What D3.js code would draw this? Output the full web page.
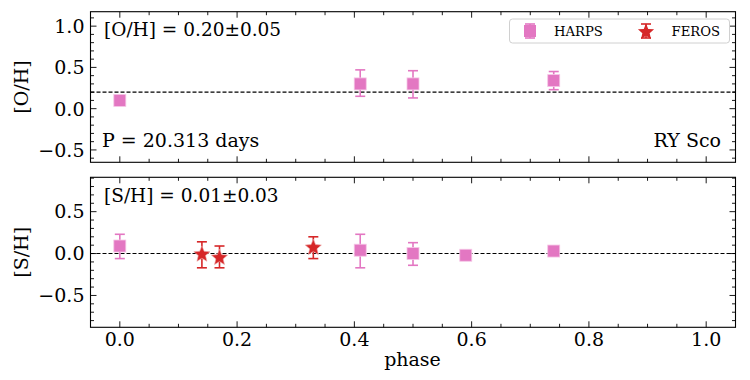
<!DOCTYPE html>
<html>
<head>
<meta charset="utf-8">
<script src="https://cdn.jsdelivr.net/npm/d3@7"></script>
<style>
  body { margin: 0; background: #fff; }
</style>
</head>
<body>
<div id="chart"></div>
<script>
// O/H panel, HARPS only
const ohPhase = [0.0, 0.41, 0.50, 0.74];
const ohVal   = [0.10, 0.30, 0.30, 0.34];
const ohLo    = [0.10, 0.15, 0.13, 0.23];
const ohHi    = [0.10, 0.47, 0.46, 0.45];
const ohMean  = 0.20;

// S/H panel
const shHarpsPhase = [0.0, 0.41, 0.50, 0.59, 0.74];
const shHarpsVal   = [0.09, 0.04, 0.00, -0.02, 0.03];
const shHarpsLo    = [-0.06, -0.17, -0.14, -0.02, 0.03];
const shHarpsHi    = [0.23, 0.23, 0.13, -0.02, 0.03];
const shFerosPhase = [0.14, 0.17, 0.33];
const shFerosVal   = [-0.01, -0.05, 0.07];
const shFerosLo    = [-0.17, -0.17, -0.06];
const shFerosHi    = [0.14, 0.09, 0.20];
const shMean = 0.0;

const xTicks = [0.0, 0.2, 0.4, 0.6, 0.8, 1.0];
const ohTicks = [-0.5, 0.0, 0.5, 1.0];
const shTicks = [-0.5, 0.0, 0.5];

const CTX = {
    W: 750, H: 380,
    LEFT: 90.5, RIGHT: 735.5,
    PINK: "#e377c2", RED: "#d62728",
    FONT: "'DejaVu Serif', serif",
    FS: "19px"
};

const svg = d3.select("#chart").append("svg")
    .attr("width", CTX.W).attr("height", CTX.H)
    .style("font-family", CTX.FONT);

const x = d3.scaleLinear().domain([-0.05, 1.05]).range([CTX.LEFT, CTX.RIGHT]);

function starPath(r) {
    let pts = [];
    for (let i = 0; i < 10; i++) {
        let rr = i % 2 === 0 ? r : r * 0.45;
        let a = -Math.PI / 2 + i * Math.PI / 5;
        pts.push([rr * Math.cos(a), rr * Math.sin(a)]);
    }
    return "M" + pts.map(p => p.join(",")).join("L") + "Z";
}

function drawPanel(top, bottom, yDomain, yTicks, yMinorStep, label) {
    const y = d3.scaleLinear().domain(yDomain).range([bottom, top]);
    const g = svg.append("g");
    const fmt = d => d3.format(".1f")(d).replace("-", "\u2212");

    const xMinor = d3.range(0, 1.0501, 0.05).filter(v => Math.abs(v * 5 - Math.round(v * 5)) > 1e-6);
    const yMinor = d3.range(Math.ceil(yDomain[0] / yMinorStep) * yMinorStep, yDomain[1] + 1e-9, yMinorStep)
        .filter(v => !yTicks.some(t => Math.abs(t - v) < 1e-6));

    // ticks point inward on all four sides
    const ticks = g.append("g").attr("stroke", "#000").attr("stroke-width", 0.9);
    xTicks.forEach(v => {
        ticks.append("line").attr("x1", x(v)).attr("x2", x(v)).attr("y1", bottom).attr("y2", bottom - 6);
        ticks.append("line").attr("x1", x(v)).attr("x2", x(v)).attr("y1", top).attr("y2", top + 6);
    });
    xMinor.forEach(v => {
        ticks.append("line").attr("x1", x(v)).attr("x2", x(v)).attr("y1", bottom).attr("y2", bottom - 3.5);
        ticks.append("line").attr("x1", x(v)).attr("x2", x(v)).attr("y1", top).attr("y2", top + 3.5);
    });
    yTicks.forEach(v => {
        ticks.append("line").attr("x1", CTX.LEFT).attr("x2", CTX.LEFT + 6).attr("y1", y(v)).attr("y2", y(v));
        ticks.append("line").attr("x1", CTX.RIGHT).attr("x2", CTX.RIGHT - 6).attr("y1", y(v)).attr("y2", y(v));
    });
    yMinor.forEach(v => {
        ticks.append("line").attr("x1", CTX.LEFT).attr("x2", CTX.LEFT + 3.5).attr("y1", y(v)).attr("y2", y(v));
        ticks.append("line").attr("x1", CTX.RIGHT).attr("x2", CTX.RIGHT - 3.5).attr("y1", y(v)).attr("y2", y(v));
    });

    g.selectAll(".ylab").data(yTicks).enter().append("text")
        .attr("x", CTX.LEFT - 6).attr("y", d => y(d)).attr("dy", "0.36em")
        .attr("text-anchor", "end").style("font-size", CTX.FS)
        .text(fmt);

    g.append("text")
        .attr("transform", `translate(28,${(top + bottom) / 2}) rotate(-90)`)
        .attr("text-anchor", "middle").style("font-size", CTX.FS)
        .text(label);

    g.append("rect").attr("x", CTX.LEFT).attr("y", top)
        .attr("width", CTX.RIGHT - CTX.LEFT).attr("height", bottom - top)
        .attr("fill", "none").attr("stroke", "#000").attr("stroke-width", 1.1);

    return { g: g, y: y };
}

function drawErr(g, y, xs, vals, lo, hi, color, marker) {
    const eg = g.append("g");
    xs.forEach((p, i) => {
        const cx = x(p);
        eg.append("line").attr("x1", cx).attr("x2", cx).attr("y1", y(lo[i])).attr("y2", y(hi[i]))
            .attr("stroke", color).attr("stroke-width", 1.6);
        [lo[i], hi[i]].forEach(v => {
            eg.append("line").attr("x1", cx - 5).attr("x2", cx + 5).attr("y1", y(v)).attr("y2", y(v))
                .attr("stroke", color).attr("stroke-width", 1.6);
        });
        if (marker === "square") {
            eg.append("rect").attr("x", cx - 6).attr("y", y(vals[i]) - 6)
                .attr("width", 12).attr("height", 12).attr("fill", color)
                .attr("stroke", "#f5c6e6").attr("stroke-width", 0.8);
        } else {
            eg.append("path").attr("d", starPath(8.5))
                .attr("transform", `translate(${cx},${y(vals[i])})`)
                .attr("fill", color).attr("stroke", "#ecaaaa").attr("stroke-width", 0.6);
        }
    });
}

// top panel
const p1 = drawPanel(11.7, 162.3, [-0.65, 1.175], ohTicks, 0.1, "[O/H]");
p1.g.append("line").attr("x1", CTX.LEFT).attr("x2", CTX.RIGHT)
    .attr("y1", p1.y(ohMean)).attr("y2", p1.y(ohMean))
    .attr("stroke", "#000").attr("stroke-width", 1.1).attr("stroke-dasharray", "4,2");
drawErr(p1.g, p1.y, ohPhase, ohVal, ohLo, ohHi, CTX.PINK, "square");
p1.g.append("text").attr("x", 104).attr("y", 36).style("font-size", "18.5px")
    .text("[O/H] = 0.20\u00b10.05");
p1.g.append("text").attr("x", 102).attr("y", 147).style("font-size", CTX.FS)
    .text("P = 20.313 days");
p1.g.append("text").attr("x", 721).attr("y", 147).attr("text-anchor", "end").style("font-size", CTX.FS)
    .text("RY Sco");

// legend
const lg = p1.g.append("g");
lg.append("rect").attr("x", 509.5).attr("y", 19).attr("width", 220).attr("height", 24)
    .attr("rx", 3).attr("fill", "#fff").attr("fill-opacity", 0.8)
    .attr("stroke", "#d0d0d0").attr("stroke-width", 1);
const legItems = [
    { name: "HARPS", color: CTX.PINK, marker: "square", mx: 530, tx: 554 },
    { name: "FEROS", color: CTX.RED, marker: "star", mx: 646, tx: 671.5 }
];
legItems.forEach(d => {
    const cy = 31;
    lg.append("line").attr("x1", d.mx).attr("x2", d.mx).attr("y1", cy - 7).attr("y2", cy + 7)
        .attr("stroke", d.color).attr("stroke-width", 1.6);
    [cy - 7, cy + 7].forEach(v => lg.append("line").attr("x1", d.mx - 5).attr("x2", d.mx + 5)
        .attr("y1", v).attr("y2", v).attr("stroke", d.color).attr("stroke-width", 1.6));
    if (d.marker === "square") {
        lg.append("rect").attr("x", d.mx - 6).attr("y", cy - 6).attr("width", 12).attr("height", 12)
            .attr("fill", d.color);
    } else {
        lg.append("path").attr("d", starPath(8.5)).attr("transform", `translate(${d.mx},${cy + 1})`)
            .attr("fill", d.color);
    }
    lg.append("text").attr("x", d.tx).attr("y", cy).attr("dy", "0.36em").style("font-size", "13.2px")
        .text(d.name);
});

// bottom panel
const p2 = drawPanel(177.3, 327.3, [-0.88, 0.91], shTicks, 0.1, "[S/H]");
p2.g.append("line").attr("x1", CTX.LEFT).attr("x2", CTX.RIGHT)
    .attr("y1", p2.y(shMean)).attr("y2", p2.y(shMean))
    .attr("stroke", "#000").attr("stroke-width", 1.1).attr("stroke-dasharray", "4,2");
drawErr(p2.g, p2.y, shHarpsPhase, shHarpsVal, shHarpsLo, shHarpsHi, CTX.PINK, "square");
drawErr(p2.g, p2.y, shFerosPhase, shFerosVal, shFerosLo, shFerosHi, CTX.RED, "star");
p2.g.append("text").attr("x", 104).attr("y", 201.5).style("font-size", "18.5px")
    .text("[S/H] = 0.01\u00b10.03");

// x tick labels and x label
svg.selectAll(".xlab").data(xTicks).enter().append("text")
    .attr("x", d => x(d)).attr("y", 346).attr("text-anchor", "middle")
    .style("font-size", CTX.FS).text(d => d3.format(".1f")(d));
svg.append("text").attr("x", (CTX.LEFT + CTX.RIGHT) / 2 - 0.5).attr("y", 366)
    .attr("text-anchor", "middle").style("font-size", CTX.FS).text("phase");
</script>
</body>
</html>
